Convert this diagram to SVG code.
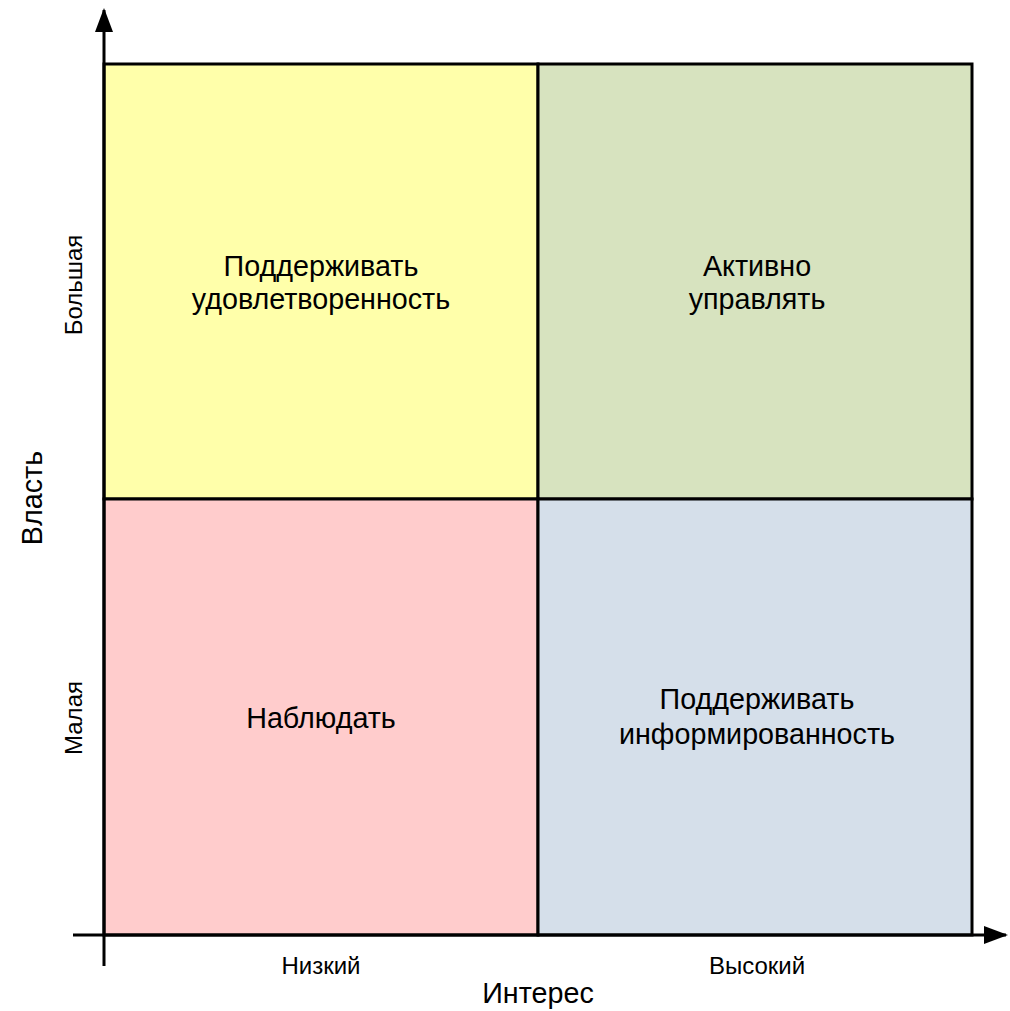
<svg xmlns="http://www.w3.org/2000/svg" width="1010" height="1011" viewBox="0 0 1010 1011">
<style>
.q{stroke:#000;stroke-width:3}
.t{font-family:"Liberation Sans",Arial,sans-serif;font-size:28.7px;fill:#000;text-anchor:middle}
.s{font-family:"Liberation Sans",Arial,sans-serif;font-size:24px;fill:#000;text-anchor:middle}
.ax{stroke:#000;stroke-width:3;fill:none}
</style>
<defs>
<marker id="ah" viewBox="0 0 24 18" refX="22" refY="9" markerWidth="24" markerHeight="18" markerUnits="userSpaceOnUse" orient="auto">
<path d="M0,0 L24,9 L0,18 Z" fill="#000"/>
</marker>
</defs>
<rect width="1010" height="1011" fill="#fff"/>
<g id="q-yellow"><rect class="q" x="104" y="64" width="434" height="435" fill="#FFFFAA"/>
<text class="t" x="321" y="276">Поддерживать</text><text class="t" x="321" y="309">удовлетворенность</text></g>
<g id="q-green"><rect class="q" x="538" y="64" width="434" height="435" fill="#D7E3BF"/>
<text class="t" x="757" y="276">Активно</text><text class="t" x="757" y="309">управлять</text></g>
<g id="q-red"><rect class="q" x="104" y="499" width="434" height="436" fill="#FFCCCC"/>
<text class="t" x="321" y="728">Наблюдать</text></g>
<g id="q-blue"><rect class="q" x="538" y="499" width="434" height="436" fill="#D5DFEA"/>
<text class="t" x="757" y="709">Поддерживать</text><text class="t" x="757" y="744">информированность</text></g>
<g id="connectors">
<line class="ax" x1="104" y1="966" x2="104" y2="10" marker-end="url(#ah)"/>
<line class="ax" x1="73" y1="935" x2="1006" y2="935" marker-end="url(#ah)"/>
</g>
<g id="labels">
<text class="s" x="321" y="974">Низкий</text>
<text class="s" x="757" y="974">Высокий</text>
<text class="t" x="538" y="1003">Интерес</text>
<text class="t" transform="translate(42,498) rotate(-90)">Власть</text>
<text class="s" transform="translate(82,285) rotate(-90)">Большая</text>
<text class="s" transform="translate(82,718) rotate(-90)">Малая</text>
</g>
</svg>
